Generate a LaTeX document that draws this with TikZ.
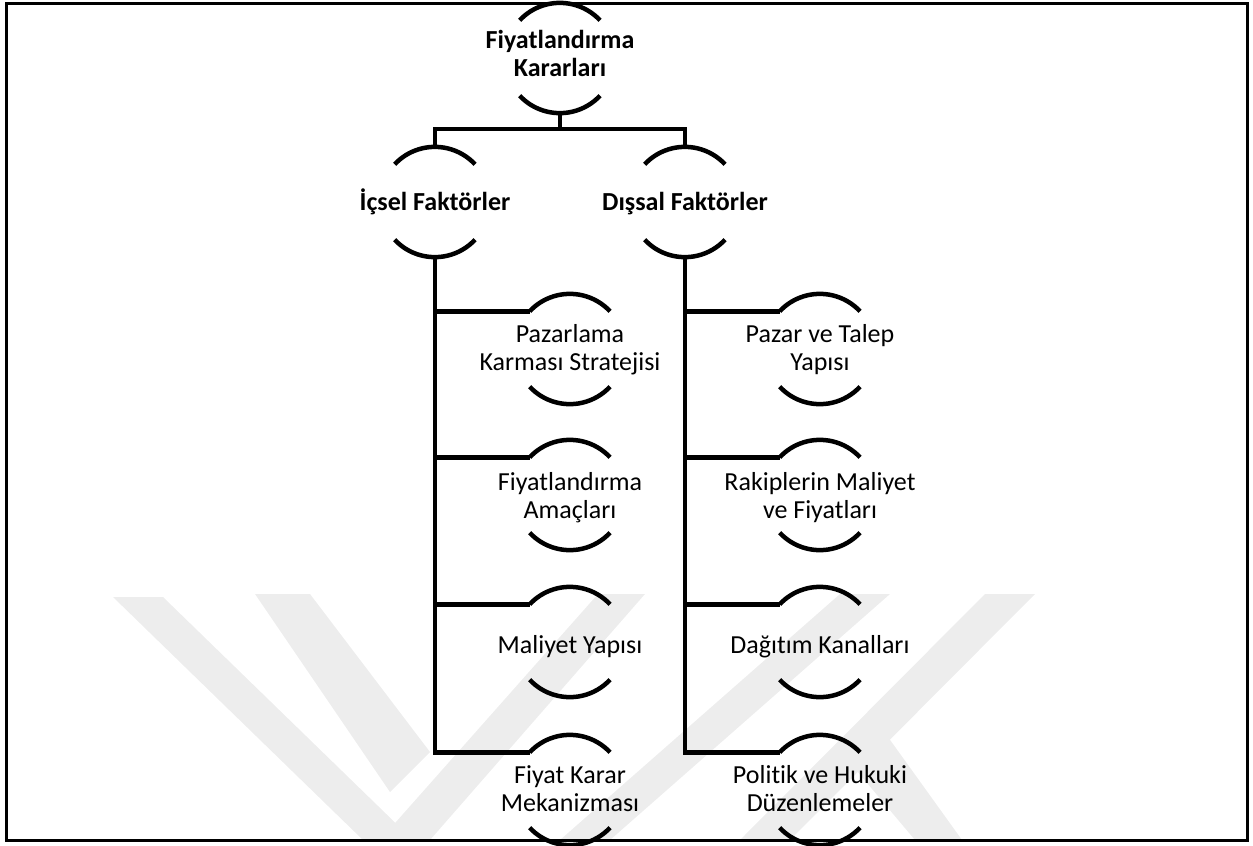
\documentclass[tikz,border=0pt]{standalone}
\usepackage{fontspec}
\setmainfont{Carlito}[Ligatures=NoCommon]
\newcommand\mystr{\rule[-7.5pt]{0pt}{28pt}}
\begin{document}
\begin{tikzpicture}[x=1pt,y=1pt,
  ring/.style={circle,minimum size=110pt,inner sep=0pt,draw=none},
  txt/.style={align=center,font=\fontsize{26}{28}\selectfont,inner sep=0pt},
  btxt/.style={txt,font=\fontsize{26}{28}\selectfont\bfseries},
  arcline/.style={line width=4.5pt,black},
  conn/.style={line width=4.5pt,black},
  wm/.style={fill=black!7,draw=none}]
\useasboundingbox (0,0) rectangle (1253,-846);
% watermark (approximate)
\fill[wm] (113,-597) -- (163,-597) -- (413,-840) -- (363,-840) -- cycle;
\fill[wm] (255,-594) -- (310,-594) -- (430,-752) -- (390,-792) -- cycle;
\fill[wm] (380,-840) -- (430,-840) -- (645,-594) -- (598,-594) -- cycle;
\fill[wm] (560,-840) -- (610,-840) -- (890,-594) -- (840,-594) -- cycle;
\fill[wm] (740,-840) -- (790,-840) -- (1035,-594) -- (985,-594) -- cycle;
\fill[wm] (835,-745) -- (870,-712) -- (962,-840) -- (915,-840) -- cycle;
% frame
\draw[line width=3pt] (6,-3.5) rectangle (1247,-840);
% rings
\node[ring] (top) at (560,-58) {};
\node[ring] (a) at (435,-202) {};
\node[ring] (b) at (685,-202) {};
\node[ring] (a1) at (570,-349) {};
\node[ring] (a2) at (570,-495) {};
\node[ring] (a3) at (570,-642) {};
\node[ring] (a4) at (570,-790) {};
\node[ring] (b1) at (820,-349) {};
\node[ring] (b2) at (820,-495) {};
\node[ring] (b3) at (820,-642) {};
\node[ring] (b4) at (820,-790) {};
% arcs
\foreach \n in {top,a,b,a1,a2,a3,a4,b1,b2,b3,b4}{
  \draw[arcline] (\n.137) arc[start angle=137,end angle=43,radius=55pt];
  \draw[arcline] (\n.223) arc[start angle=223,end angle=317,radius=55pt];
}
% texts
\node[btxt] (ttop) at (560,-56) {\mystr Fiyatlandırma\\\mystr Kararları};
\node[btxt,anchor=base] (ta) at (435,-210) {İçsel Faktörler};
\node[btxt,anchor=base] (tb) at (685,-210) {Dışsal Faktörler};
\node[txt] (ta1) at (570,-350) {\mystr Pazarlama\\\mystr Karması Stratejisi};
\node[txt] (ta2) at (570,-498) {\mystr Fiyatlandırma\\\mystr Amaçları};
\node[txt,anchor=base] (ta3) at (570,-653) {Maliyet Yapısı};
\node[txt] (ta4) at (570,-791) {\mystr Fiyat Karar\\\mystr Mekanizması};
\node[txt] (tb1) at (820,-350) {\mystr Pazar ve Talep\\\mystr Yapısı};
\node[txt] (tb2) at (820,-498) {\mystr Rakiplerin Maliyet\\\mystr ve Fiyatları};
\node[txt,anchor=base] (tb3) at (820,-653) {Dağıtım Kanalları};
\node[txt] (tb4) at (820,-791) {\mystr Politik ve Hukuki\\\mystr Düzenlemeler};
% connectors
\draw[conn] (top.south) -- ++(0,-16) -| (a.north);
\draw[conn] (top.south) -- ++(0,-16) -| (b.north);
\draw[conn] (a.south) |- (a4.137);
\draw[conn] (a.south |- a1.137) -- (a1.137);
\draw[conn] (a.south |- a2.137) -- (a2.137);
\draw[conn] (a.south |- a3.137) -- (a3.137);
\draw[conn] (b.south) |- (b4.137);
\draw[conn] (b.south |- b1.137) -- (b1.137);
\draw[conn] (b.south |- b2.137) -- (b2.137);
\draw[conn] (b.south |- b3.137) -- (b3.137);
\end{tikzpicture}
\end{document}
